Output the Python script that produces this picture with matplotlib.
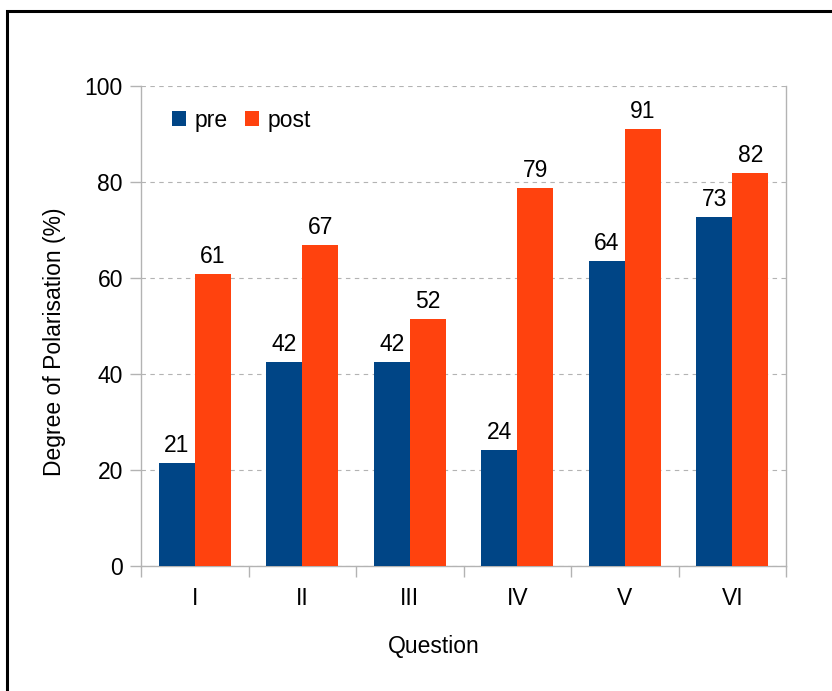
import matplotlib
matplotlib.use('Agg')
import matplotlib.pyplot as plt
from matplotlib.patches import Rectangle
import numpy as np

plt.rcParams['font.family'] = ['Liberation Sans', 'DejaVu Sans']

questions = ['I', 'II', 'III', 'IV', 'V', 'VI']
pre = [21.5, 42.5, 42.5, 24.2, 63.5, 72.7]
post = [60.8, 66.9, 51.5, 78.8, 91.0, 81.9]
pre_labels = ['21', '42', '42', '24', '64', '73']
post_labels = ['61', '67', '52', '79', '91', '82']
yticks = [0, 20, 40, 60, 80, 100]

blue = '#004586'
orange = '#ff420e'
grey = '#b3b3b3'
fs = 16.5

fig = plt.figure(figsize=(8.32, 6.91), dpi=100)
ax = fig.add_axes([141/832, 1-566/691, 645/832, 480/691])

x = np.arange(len(questions))
w = 0.335
b1 = ax.bar(x - w/2, pre, w, color=blue, label='pre', zorder=3)
b2 = ax.bar(x + w/2, post, w, color=orange, label='post', zorder=3)

for bars, labs in [(b1, pre_labels), (b2, post_labels)]:
    for r, t in zip(bars, labs):
        ax.annotate(t, (r.get_x() + r.get_width()/2, r.get_height()),
                    xytext=(0, 8), textcoords='offset points',
                    ha='center', va='baseline', fontsize=fs)

ax.set_xlim(-0.5, len(questions) - 0.5)
ax.set_ylim(0, 100)
ax.set_yticks(yticks)
ax.set_xticks(x)
ax.set_xticklabels(questions)
ax.set_xticks(np.arange(len(questions) + 1) - 0.5, minor=True)

ax.yaxis.grid(True, color=grey, linestyle=(0, (4, 4)), linewidth=0.8, zorder=0)
ax.tick_params(axis='y', length=8, width=1, color=grey, pad=5, labelsize=fs)
ax.tick_params(axis='x', which='major', length=0, pad=15, labelsize=fs)
ax.tick_params(axis='x', which='minor', length=8, width=1, color=grey)

for s in ['left', 'bottom', 'right']:
    ax.spines[s].set_color(grey)
    ax.spines[s].set_linewidth(1)
ax.spines['top'].set_visible(False)

# axis titles sit off-centre in the original, so place them by hand
fig.text(55/832, 1-342/691, 'Degree of Polarisation (%)', rotation=90,
         ha='center', va='center', fontsize=fs)
fig.text(434/832, 1-646/691, 'Question', ha='center', va='center', fontsize=fs)

ax.legend(loc='center left', bbox_to_anchor=(31/645, (566-120)/480),
          ncol=2, frameon=False, fontsize=fs, borderpad=0, borderaxespad=0,
          handlelength=0.62, handleheight=0.62, handletextpad=0.35,
          columnspacing=0.78)

# black frame around the whole chart (right and bottom edges fall outside)
fig.patches.append(Rectangle((7.5/832, -0.2), 1.2, 1.2 - 10.5/691,
                             transform=fig.transFigure, fill=False,
                             edgecolor='black', linewidth=2.2))

fig.savefig('out.png', dpi=100)
